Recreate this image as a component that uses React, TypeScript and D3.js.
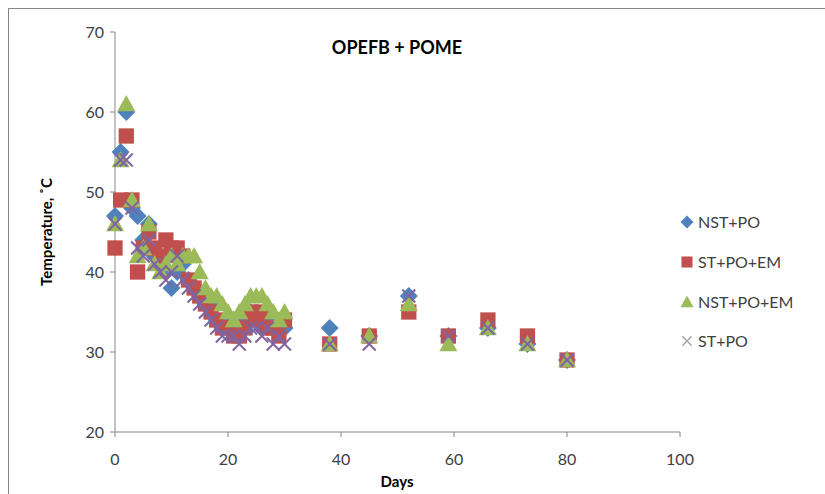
import React from "react";
import * as d3 from "d3";

const days = [0,1,2,3,4,5,6,7,8,9,10,11,12,13,14,15,16,17,18,19,20,21,22,23,24,25,26,27,28,29,30,38,45,52,59,66,73,80];
const nstPo = [47,55,60,48,47,44,46,42,41,40,38,40,41,39,38,37,36,36,34,33,33,34,33,34,35,34,33,34,33,33,33,33,32,37,32,33,31,29];
const stPoEm = [43,49,57,49,40,43,45,43,42,44,43,43,42,39,38,37,36,35,34,33,33,32,32,33,35,34,35,33,33,32,34,31,32,35,32,34,32,29];
const nstPoEm = [46,54,61,49,42,43,46,41,40,41,42,41,42,42,42,40,38,37,37,36,35,34,35,36,37,37,37,36,35,34,35,31,32,36,31,33,31,29];
const stPo = [46,54,54,48,43,42,44,41,40,39,40,42,39,38,37,36,35,34,33,32,32,32,31,32,33,33,32,33,31,32,31,31,31,37,32,33,31,29];
const seriesNames = ["NST+PO", "ST+PO+EM", "NST+PO+EM", "ST+PO"];
const xTicks = [0, 20, 40, 60, 80, 100];
const yTicks = [20, 30, 40, 50, 60, 70];
const title = "OPEFB + POME";

const colors = ["#4F81BD", "#C0504D", "#9BBB59", "#8064A2"];

function markerPath(i: number, s: number): string {
  if (i === 0) return `M0,${-s}L${s},0L0,${s}L${-s},0Z`;
  if (i === 1) { const h = s * 0.85; return `M${-h},${-h}H${h}V${h}H${-h}Z`; }
  if (i === 2) { const h = s; return `M0,${-h}L${h},${h * 0.8}L${-h},${h * 0.8}Z`; }
  const h = s * 0.72;
  return `M${-h},${-h}L${h},${h}M${-h},${h}L${h},${-h}`;
}

export default function App() {
  const x = d3.scaleLinear().domain([0, 100]).range([115, 680]);
  const y = d3.scaleLinear().domain([20, 70]).range([432, 32]);
  const font = "Lato, 'Open Sans', sans-serif";
  const allSeries = [nstPo, stPoEm, nstPoEm, stPo];
  const legendY = [222, 262, 302, 341];

  return (
    <svg width={825} height={494} style={{ position: "absolute", left: 0, top: 0, background: "#fff" }} fontFamily={font}>
      <rect x={8.5} y={8.5} width={830} height={500} fill="#fff" stroke="#868686" strokeWidth={1} />
      <text x={397} y={54} textAnchor="middle" fontSize={18} fontWeight="bold" fill="#000">{title}</text>
      <line x1={x(0)} x2={x(0)} y1={y(70)} y2={y(20)} stroke="#868686" />
      <line x1={x(0)} x2={x(100)} y1={y(20)} y2={y(20)} stroke="#868686" />
      {yTicks.map((t) => (
        <g key={"y" + t}>
          <line x1={x(0) - 5} x2={x(0)} y1={y(t)} y2={y(t)} stroke="#868686" />
          <text x={x(0) - 11} y={y(t) + 6} textAnchor="end" fontSize={16} fill="#404040">{t}</text>
        </g>
      ))}
      {xTicks.map((t) => (
        <g key={"x" + t}>
          <line x1={x(t)} x2={x(t)} y1={y(20)} y2={y(20) + 5} stroke="#868686" />
          <text x={x(t)} y={y(20) + 33} textAnchor="middle" fontSize={16} fill="#404040">{t}</text>
        </g>
      ))}
      <text x={397} y={487} textAnchor="middle" fontSize={15} fontWeight="bold" fill="#000">Days</text>
      <text transform={`translate(52,232) rotate(-90)`} textAnchor="middle" fontSize={15} fontWeight="bold" fill="#000">Temperature, ˚C</text>
      {allSeries.map((vals, si) => (
        <g key={"s" + si}>
          {vals.map((v, i) => (
            <path
              key={i}
              d={markerPath(si, 9)}
              transform={`translate(${x(days[i])},${y(v)})`}
              fill={si === 3 ? "none" : colors[si]}
              stroke={si === 3 ? colors[si] : "none"}
              strokeWidth={si === 3 ? 2 : 0}
            />
          ))}
        </g>
      ))}
      {seriesNames.map((n, si) => (
        <g key={"l" + si} transform={`translate(687,${legendY[si]})`}>
          <path
            d={markerPath(si, 6.5)}
            fill={si === 3 ? "none" : colors[si]}
            stroke={si === 3 ? "#A6A6A6" : "none"}
            strokeWidth={si === 3 ? 1.5 : 0}
          />
          <text x={11} y={6} fontSize={16} fill="#404040">{n}</text>
        </g>
      ))}
    </svg>
  );
}
